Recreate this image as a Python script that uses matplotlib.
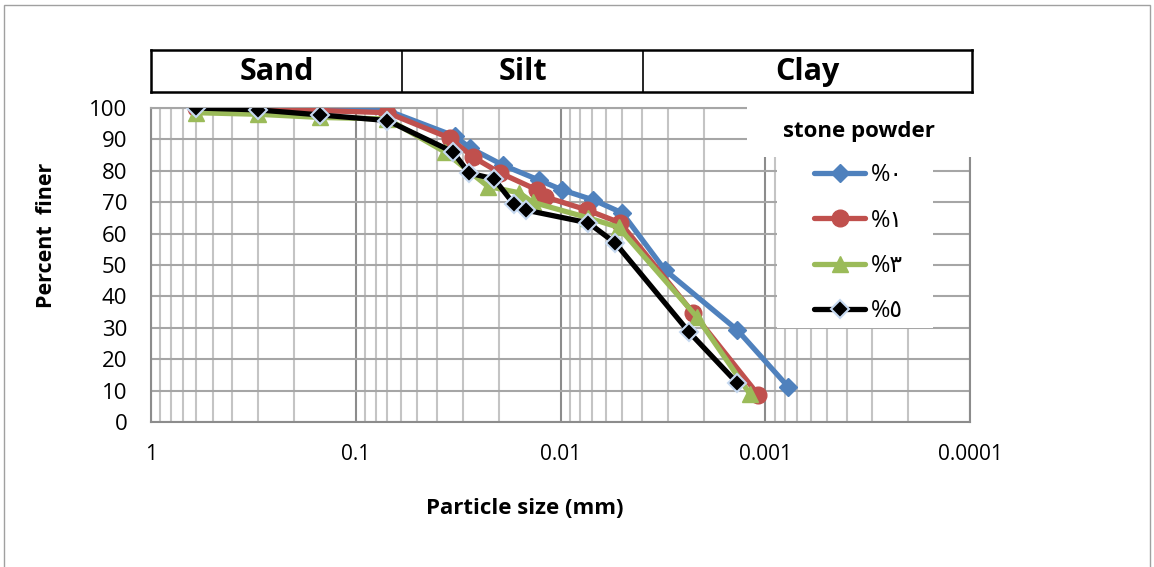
import matplotlib

matplotlib.use("Agg")
import matplotlib.pyplot as plt
from matplotlib.patches import Rectangle
from matplotlib.ticker import FixedLocator, LogLocator, NullFormatter

plt.rcParams["font.family"] = ["Open Sans", "DejaVu Sans"]

# particle size (mm) and percent finer for each stone powder content
blue_size = [0.6, 0.3, 0.15, 0.07, 0.0327, 0.0277, 0.0191, 0.0127, 0.0098, 0.0069, 0.0050, 0.0031, 0.00137, 0.00077]
blue_pct = [100, 99.5, 99.2, 99.2, 91, 87.3, 81.8, 77, 73.9, 70.7, 66.6, 48.5, 29.3, 11.1]

red_size = [0.6, 0.3, 0.15, 0.07, 0.0347, 0.0268, 0.0197, 0.0130, 0.0119, 0.0074, 0.0051, 0.00225, 0.00108]
red_pct = [100, 100, 99.2, 98.5, 90.4, 84.4, 79.3, 73.9, 71.7, 67.5, 63.4, 34.7, 8.6]

green_size = [0.6, 0.3, 0.15, 0.07, 0.0367, 0.0226, 0.0159, 0.0137, 0.0073, 0.0052, 0.00216, 0.00119]
green_pct = [98.5, 98, 97, 96.5, 86, 75, 73, 70, 65, 62, 33.5, 9]

black_size = [0.6, 0.3, 0.15, 0.07, 0.0335, 0.028, 0.0211, 0.0169, 0.0148, 0.0073, 0.0054, 0.00236, 0.00137]
black_pct = [100, 99.4, 97.8, 96, 86, 79.3, 77.4, 69.4, 67.5, 63.4, 57, 28.7, 12.4]

labels = ["%\u0660", "%\u0661", "%\u0663", "%\u0665"]
soil_classes = ["Sand", "Silt", "Clay"]

W, H = 1154, 567
fig = plt.figure(figsize=(W / 100, H / 100), dpi=100)


def fx(px):
    return px / W


def fy(py):
    return 1 - py / H


ax = fig.add_axes([fx(151), fy(422), fx(970) - fx(151), fy(108) - fy(422)])

styles = [
    dict(color="#4f81bd", marker="D", ms=9.5, mec="#4f81bd", mew=1),
    dict(color="#c0504d", marker="o", ms=12, mec="#c0504d", mew=1),
    dict(color="#9bbb59", marker="^", ms=12, mec="#9bbb59", mew=1),
    dict(color="#000000", marker="D", ms=9, mec="#c6d9f1", mew=1.5),
]
series = [(blue_size, blue_pct), (red_size, red_pct), (green_size, green_pct), (black_size, black_pct)]
handles = []
for (xs, ys), st, lab in zip(series, styles, labels):
    (ln,) = ax.plot(xs, ys, lw=3.8, solid_joinstyle="round", solid_capstyle="round",
                    label=lab, zorder=3, **st)
    handles.append(ln)

ax.set_xscale("log")
ax.set_xlim(1, 0.0001)
ax.set_ylim(0, 100)
ax.xaxis.set_major_locator(FixedLocator([1, 0.1, 0.01, 0.001, 0.0001]))
ax.xaxis.set_minor_locator(LogLocator(base=10, subs=range(2, 10), numticks=20))
ax.xaxis.set_minor_formatter(NullFormatter())
ax.set_xticklabels(["1", "0.1", "0.01", "0.001", "0.0001"])
ax.set_yticks(range(0, 101, 10))
ax.tick_params(axis="both", which="both", length=0, labelsize=15, colors="#000000")
ax.tick_params(axis="y", labelsize=16, pad=17)
ax.tick_params(axis="x", pad=16)

ax.grid(True, which="major", axis="x", color="#8c8c8c", lw=1.5)
ax.grid(True, which="minor", axis="x", color="#c4c4c4", lw=1.5)
ax.grid(True, which="major", axis="y", color="#a6a6a6", lw=1.5)
ax.set_axisbelow(True)
for sp in ax.spines.values():
    sp.set_color("#8c8c8c")
    sp.set_linewidth(1.5)
ax.spines["top"].set_color("#a6a6a6")

# white areas behind legend title and legend entries
fig.add_artist(Rectangle((fx(747), fy(157)), fx(985) - fx(747), fy(100) - fy(157),
                         transform=fig.transFigure, facecolor="white", edgecolor="none", zorder=2))
fig.add_artist(Rectangle((fx(777), fy(328)), fx(933) - fx(777), fy(157) - fy(328),
                         transform=fig.transFigure, facecolor="white", edgecolor="none", zorder=2))

fig.text(fx(859), fy(131), "stone powder", ha="center", va="center", fontsize=16,
         fontweight="bold", zorder=3)

leg = fig.legend(handles=handles, labels=labels, loc="upper left",
                 bbox_to_anchor=(fx(805), fy(154)), frameon=False, fontsize=17,
                 handlelength=2.15, handletextpad=0.25, labelspacing=0.9, borderaxespad=0)
leg.set_zorder(4)

# soil classification header
hax = fig.add_axes([fx(151), fy(92), fx(972) - fx(151), fy(50) - fy(92)])
hax.set_xlim(0, 1)
hax.set_ylim(0, 1)
hax.set_xticks([])
hax.set_yticks([])
for sp in hax.spines.values():
    sp.set_linewidth(1.8)
    sp.set_color("black")
dividers = [(402 - 151) / 821, (643 - 151) / 821]
for d in dividers:
    hax.axvline(d, color="black", lw=1.2)
edges = [0] + dividers + [1]
for i, name in enumerate(soil_classes):
    hax.text((edges[i] + edges[i + 1]) / 2, 0.47, name, ha="center", va="center",
             fontsize=22, fontweight="bold")

fig.text(fx(47), fy(235), "Percent  finer", rotation=90, ha="center", va="center",
         fontsize=15.5, fontweight="bold")
fig.text(fx(525), fy(508), "Particle size (mm)", ha="center", va="center",
         fontsize=16, fontweight="bold")

# chart area border
fig.add_artist(Rectangle((fx(4), -0.02), fx(1150) - fx(4), fy(5) + 0.02,
                         transform=fig.transFigure, facecolor="none", edgecolor="#a0a0a0", lw=1))

fig.savefig("out.png", dpi=100)
